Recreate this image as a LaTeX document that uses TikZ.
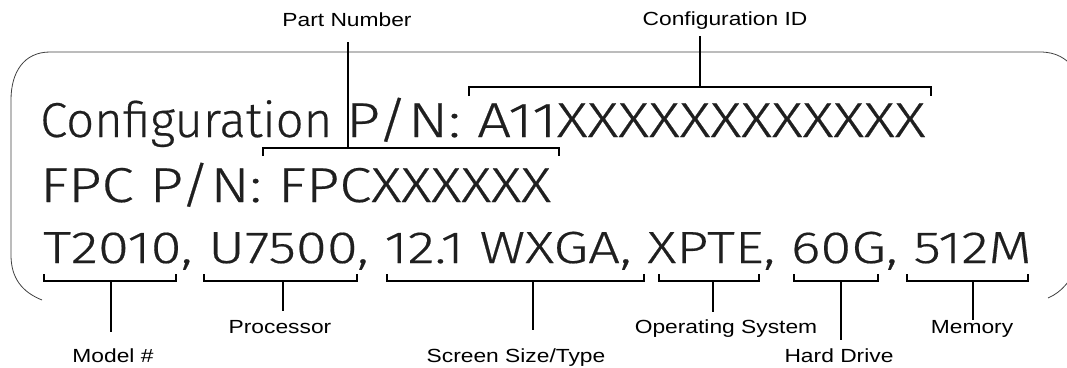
\documentclass[tikz,border=0pt]{standalone}
\usepackage{fontspec}
\setmainfont{Liberation Sans}
\newfontfamily\calloutfont[FakeStretch=1.2]{Liberation Sans}
\newfontfamily\platefont[FakeBold=0.4]{Fira Sans Light}
\newfontfamily\platewide[FakeStretch=1.22, FakeBold=0.4]{Fira Sans Light}
\newfontfamily\platefpc[FakeStretch=1.19, FakeBold=0.4]{Fira Sans Light}
\newfontfamily\platespec[FakeStretch=1.25, FakeBold=0.4]{Fira Sans Light}

\begin{document}
\begin{tikzpicture}[x=1pt, y=-1pt,
  bracket/.style={line width=1.6pt},
  stem/.style={line width=1.6pt},
  callout/.style={font=\calloutfont\fontsize{19}{19}\selectfont, inner sep=0pt, anchor=base},
  plate/.style={font=\platefont\fontsize{49}{49}\selectfont, text=black!88, inner sep=0pt, anchor=base west}]
  \useasboundingbox (0,0) rectangle (1067,367);
  \clip (0,0) rectangle (1067,367);
  % Outline of the label, open along the bottom
  \draw[line width=0.8pt, black!75] (42,300) .. controls (22,292) and (11,278) .. (11,255)
    -- (11,100) .. controls (11,72) and (24,52) .. (50,52) -- (1040,52)
    .. controls (1056,52) and (1066,58) .. (1076,70);
  \draw[line width=0.8pt, black!75] (1048,298) .. controls (1062,292) and (1072,280) .. (1078,262);
  % Printed lines
  \node[plate] (cfgline) at (40,137) {Configuration {\platewide P/N: A11XXXXXXXXXXXX}};
  \node[plate, font=\platefpc\fontsize{49}{49}\selectfont] (fpcline) at (40,202) {FPC P/N: FPCXXXXXX};
  \node[plate, font=\platespec\fontsize{45}{45}\selectfont] (specline) at (43,263) {T2010, U7500, 12.1 WXGA, XPTE, 60G, 512M};
  % Callouts
  \node[callout] (partno) at (347,26) {Part Number};
  \node[callout] (cfgid) at (725,25) {Configuration ID};
  \node[callout] (model) at (113,362) {Model \#};
  \node[callout] (cpu) at (280,333) {Processor};
  \node[callout] (screen) at (516,362) {Screen Size/Type};
  \node[callout] (os) at (726,333) {Operating System};
  \node[callout] (hdd) at (839,362) {Hard Drive};
  \node[callout] (mem) at (972,333) {Memory};
  % Brackets over the top two lines
  \draw[bracket] (263,156) -- (263,148) -- (559,148) -- (559,156);
  \draw[stem, shorten <=16pt] (348,148 |- partno.south) -- (348,148);
  \draw[bracket] (469,96) -- (469,87) -- (931,87) -- (931,96);
  \draw[stem, shorten <=7pt] (700,87 |- cfgid.south) -- (700,87);
  % Brackets under the spec line
  \foreach \l/\r/\m/\lab/\gap in {44/176/111/model/16, 204/357/283/cpu/9,
      387/644/533/screen/18, 659/759/713/os/7, 794/878/841/hdd/8, 907/1028/973/mem/0} {
    \draw[bracket] (\l,274) -- (\l,281) -- (\r,281) -- (\r,274);
    \draw[stem, shorten >=\gap pt] (\m,281) -- (\m,281 |- \lab.north);
  }
\end{tikzpicture}
\end{document}
